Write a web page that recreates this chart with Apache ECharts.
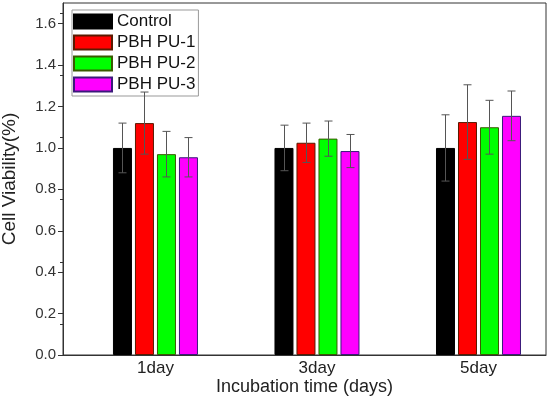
<!DOCTYPE html>
<html><head><meta charset="utf-8">
<script src="https://cdn.jsdelivr.net/npm/echarts@6/dist/echarts.min.js"></script>
<style>html,body{margin:0;padding:0;background:#fff}#c{width:550px;height:398px}</style>
</head><body><div id="c"></div>
<script>
var categories = ['1day', '3day', '5day'];
var categoryX = [1, 3, 5];
var seriesNames = ['Control', 'PBH PU-1', 'PBH PU-2', 'PBH PU-3'];
var control = [1.00, 1.00, 1.00];
var pu1 = [1.12, 1.025, 1.125];
var pu2 = [0.97, 1.045, 1.10];
var pu3 = [0.955, 0.985, 1.155];
var controlErr = [0.12, 0.11, 0.16];
var pu1Err = [0.15, 0.095, 0.18];
var pu2Err = [0.11, 0.085, 0.13];
var pu3Err = [0.095, 0.08, 0.12];
var yTicks = [0, 0.2, 0.4, 0.6, 0.8, 1.0, 1.2, 1.4, 1.6];

var values = [control, pu1, pu2, pu3];
var errs = [controlErr, pu1Err, pu2Err, pu3Err];
var colors = ['#000000', '#ff0000', '#00ff00', '#ff00ff'];
var borders = ['#000000', '#5a1a00', '#3a5a00', '#3a1a7a'];
var BW = 19, GAP = 3;

var series = [];
values.forEach(function (v, i) {
  series.push({
    name: seriesNames[i], type: 'bar', barWidth: BW, barGap: (GAP / BW * 100) + '%',
    itemStyle: { color: colors[i], borderColor: borders[i], borderWidth: 1 },
    data: v.map(function (y, k) { return [categoryX[k], y]; }),
    z: 2
  });
});
values.forEach(function (v, i) {
  series.push({
    type: 'custom', z: 5, silent: true,
    data: v.map(function (y, k) { return [categoryX[k], y, errs[i][k]]; }),
    renderItem: function (params, api) {
      var x = api.value(0), y = api.value(1), e = api.value(2);
      var off = (i - 1.5) * (BW + GAP);
      var top = api.coord([x, y + e]);
      var bot = api.coord([x, y - e]);
      var cx = Math.round(top[0] + off) + 0.5;
      var st = { stroke: '#555', lineWidth: 1 };
      return { type: 'group', children: [
        { type: 'line', shape: { x1: cx, y1: top[1], x2: cx, y2: bot[1] }, style: st },
        { type: 'line', shape: { x1: cx - 4, y1: top[1], x2: cx + 4, y2: top[1] }, style: st },
        { type: 'line', shape: { x1: cx - 4, y1: bot[1], x2: cx + 4, y2: bot[1] }, style: st }
      ]};
    }
  });
});

var chart = echarts.init(document.getElementById('c'));
chart.setOption({
  animation: false,
  textStyle: { fontFamily: 'Liberation Sans, Arial, sans-serif' },
  grid: { left: 63, right: 4, top: 3, bottom: 43, containLabel: false, outerBoundsMode: 'none',
    show: true, borderColor: '#333', borderWidth: 1, backgroundColor: 'transparent' },
  legend: {
    orient: 'vertical', left: 72, top: 10, itemWidth: 38, itemHeight: 14, itemGap: 4,
    borderColor: '#999', borderWidth: 1, padding: [3, 3, 3, 1], backgroundColor: '#fff',
    textStyle: { fontSize: 17, lineHeight: 17, color: '#111', fontFamily: 'Liberation Sans, Arial, sans-serif' },
    data: seriesNames, icon: 'rect'
  },
  xAxis: {
    type: 'value', min: -0.145, max: 5.836,
    splitLine: { show: false },
    axisLine: { onZero: false, lineStyle: { color: '#333' } },
    axisTick: { show: false },
    axisLabel: { customValues: categoryX, fontSize: 17, color: '#222', margin: 5,
      formatter: function (v) { var k = categoryX.indexOf(v); return k >= 0 ? categories[k] : ''; } },
    name: 'Incubation time (days)', nameLocation: 'middle', nameGap: 23, nameMoveOverlap: false,
    nameTextStyle: { fontSize: 18, color: '#222' }
  },
  yAxis: {
    type: 'value', min: 0, max: 1.7,
    splitLine: { show: false },
    axisLine: { show: true, onZero: false, lineStyle: { color: '#333' } },
    axisTick: { show: true, customValues: yTicks, length: 5, lineStyle: { color: '#333' } },
    minorTick: { show: true, splitNumber: 2, length: 3, lineStyle: { color: '#333' } },
    axisLabel: { customValues: yTicks, fontSize: 15, color: '#333', margin: 7,
      formatter: function (v) { return v.toFixed(1); } },
    name: 'Cell Viability(%)', nameLocation: 'middle', nameGap: 44, nameRotate: 90, nameMoveOverlap: false,
    nameTextStyle: { fontSize: 19, color: '#222' }
  },
  series: series
});
</script></body></html>
